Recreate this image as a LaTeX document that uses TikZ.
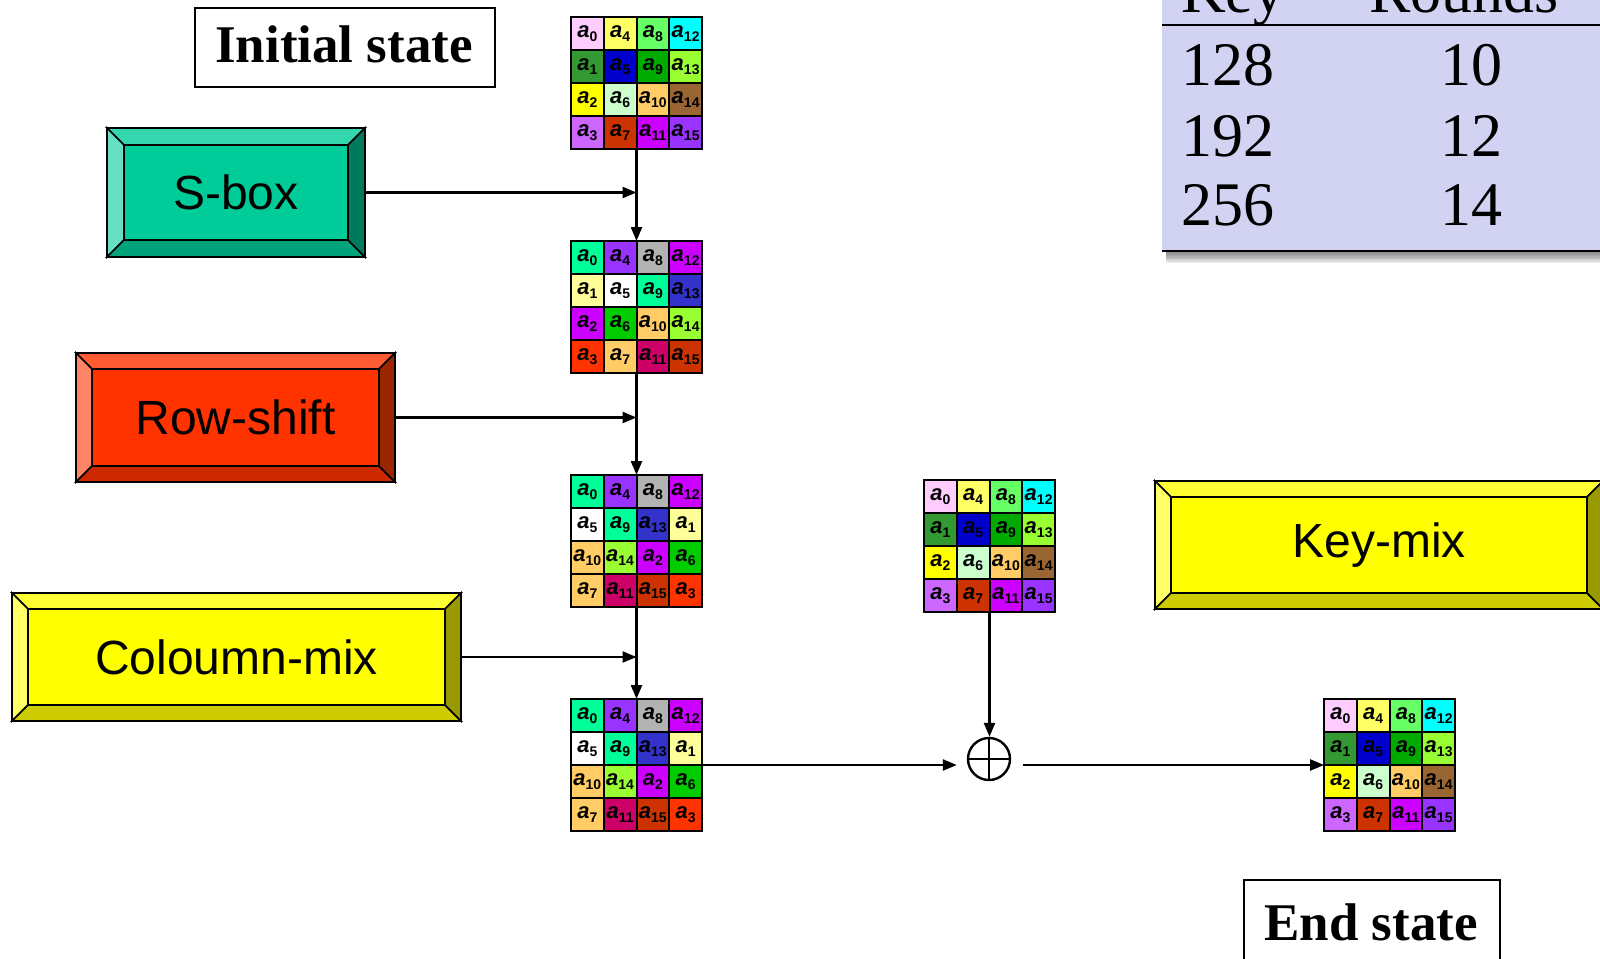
\documentclass[tikz,border=0pt]{standalone}
\usepackage{fontspec}
\setmainfont{Liberation Serif}
\newfontfamily\arialfont{Liberation Sans}
\usetikzlibrary{arrows.meta,calc}
% grid colours, set A (initial / key / end)
\definecolor{A0}{HTML}{FFCCFF}\definecolor{A1}{HTML}{339933}\definecolor{A2}{HTML}{FFFF00}\definecolor{A3}{HTML}{CC66FF}
\definecolor{A4}{HTML}{FFFF66}\definecolor{A5}{HTML}{0000CC}\definecolor{A6}{HTML}{CCFFCC}\definecolor{A7}{HTML}{CC3300}
\definecolor{A8}{HTML}{66FF66}\definecolor{A9}{HTML}{00AA00}\definecolor{A10}{HTML}{FFCC66}\definecolor{A11}{HTML}{CC00FF}
\definecolor{A12}{HTML}{00FFFF}\definecolor{A13}{HTML}{99FF33}\definecolor{A14}{HTML}{996633}\definecolor{A15}{HTML}{9933FF}
% set B (after S-box)
\definecolor{B0}{HTML}{00FF99}\definecolor{B1}{HTML}{FFFF99}\definecolor{B2}{HTML}{CC00FF}\definecolor{B3}{HTML}{FF3300}
\definecolor{B4}{HTML}{9933FF}\definecolor{B5}{HTML}{FFFFFF}\definecolor{B6}{HTML}{00CC00}\definecolor{B7}{HTML}{FFCC66}
\definecolor{B8}{HTML}{B2B2B2}\definecolor{B9}{HTML}{00FF99}\definecolor{B10}{HTML}{FFCC66}\definecolor{B11}{HTML}{CC0066}
\definecolor{B12}{HTML}{CC00FF}\definecolor{B13}{HTML}{3333CC}\definecolor{B14}{HTML}{99FF33}\definecolor{B15}{HTML}{CC3300}
% bevel box colours
\definecolor{sbF}{HTML}{00CC99}\definecolor{sbT}{HTML}{33D6AD}\definecolor{sbL}{HTML}{66E0C2}\definecolor{sbB}{HTML}{00A37A}\definecolor{sbR}{HTML}{007A5C}
\definecolor{rsF}{HTML}{FF3300}\definecolor{rsT}{HTML}{FF5C33}\definecolor{rsL}{HTML}{FF8566}\definecolor{rsB}{HTML}{CC2900}\definecolor{rsR}{HTML}{992600}
\definecolor{ylF}{HTML}{FFFF00}\definecolor{ylT}{HTML}{FFFF33}\definecolor{ylL}{HTML}{FFFF66}\definecolor{ylB}{HTML}{CCCC00}\definecolor{ylR}{HTML}{999900}
\definecolor{tabfill}{HTML}{D2D2F2}

\newcommand{\cellab}[1]{{\arialfont\bfseries\itshape\fontsize{22}{22}\selectfont a}{\arialfont\bfseries\fontsize{14}{14}\selectfont\raisebox{-4.5pt}{#1}}}

\newcommand{\stategrid}[5]{% name, x0, y0, shifted layout (0/1), colour set
  \node[minimum width=131pt, minimum height=132pt, inner sep=0pt, outer sep=0pt] (#1) at (#2+65.5,#3+66) {};
  \foreach \r in {0,...,3}{\foreach \c in {0,...,3}{
    \pgfmathtruncatemacro\sh{#4*{0,1,2,1}[\r]}
    \pgfmathtruncatemacro\lbl{4*mod(\c+\sh,4)+\r}
    \node[cellbox, fill=#5\lbl] (#1c\r\c) at (#2+16.375+\c*32.75, #3+16.5+\r*33) {\cellab{\lbl}};
  }}
}

\newcommand{\bevelbox}[8]{% name, x1, y1, x2, y2, bevel, colour prefix, text
  \draw[bevel, fill=#7T] (#2,#3) -- (#4,#3) -- (#4-#6,#3+#6) -- (#2+#6,#3+#6) -- cycle;
  \draw[bevel, fill=#7L] (#2,#3) -- (#2+#6,#3+#6) -- (#2+#6,#5-#6) -- (#2,#5) -- cycle;
  \draw[bevel, fill=#7B] (#2,#5) -- (#2+#6,#5-#6) -- (#4-#6,#5-#6) -- (#4,#5) -- cycle;
  \draw[bevel, fill=#7R] (#4,#3) -- (#4,#5) -- (#4-#6,#5-#6) -- (#4-#6,#3+#6) -- cycle;
  \draw[bevel, fill=#7F] (#2+#6,#3+#6) rectangle (#4-#6,#5-#6);
  \node[boxlabel, minimum width={(#4-#2)*1pt}, minimum height={(#5-#3)*1pt}] (#1) at ({(#2+#4)/2},{(#3+#5)/2}) {#8};
}

\begin{document}
\begin{tikzpicture}[x=1pt,y=-1pt,
  cellbox/.style={draw, line width=2pt, minimum width=32.75pt, minimum height=33pt, inner sep=0pt, text=black},
  bevel/.style={draw=black, line width=1.6pt, line join=miter},
  boxlabel/.style={inner sep=0pt, outer sep=0pt, font=\arialfont\fontsize{48}{48}\selectfont},
  arr/.style={line width=2.4pt, -{Triangle[length=14pt,width=11pt]}},
  statelabel/.style={draw, line width=1.8pt, fill=white, inner sep=0pt},
  tabtext/.style={font=\fontsize{62}{62}\selectfont, inner sep=0pt}
]
\useasboundingbox (0,0) rectangle (1600,958);
\clip (0,0) rectangle (1600,958);

% key / rounds table
\foreach \i in {1,...,8}{\fill[black, opacity=0.07] (1166,252) rectangle (1600,252+\i*1.4);}
\fill[tabfill] (1162,-5) rectangle (1600,251);
\draw[line width=1.8pt] (1162,25) -- (1600,25);
\draw[line width=2.4pt] (1162,251) -- (1600,251);
\node[tabtext, anchor=base west] (hkey) at (1181,13) {Key};
\node[tabtext, anchor=base] (hrounds) at (1464,13) {Rounds};
\node[tabtext, anchor=base west] (k1) at (1181,85) {128};
\node[tabtext, anchor=base west] (k2) at (1181,156) {192};
\node[tabtext, anchor=base west] (k3) at (1181,225) {256};
\node[tabtext, anchor=base] (r1) at (1471,85) {10};
\node[tabtext, anchor=base] (r2) at (1471,156) {12};
\node[tabtext, anchor=base] (r3) at (1471,225) {14};

% state labels
\node[statelabel, minimum width=300pt, minimum height=79pt] (initbox) at (345,47.5) {};
\node[font=\bfseries\fontsize{53}{53}\selectfont, anchor=base, inner sep=0pt] (inittext) at (344,63) {Initial state};
\node[statelabel, minimum width=256pt, minimum height=100pt] (endbox) at (1372,930) {};
\node[font=\bfseries\fontsize{53}{53}\selectfont, anchor=base, inner sep=0pt] (endtext) at (1371,940) {End state};

% operation boxes
\bevelbox{sbox}{107}{128}{365}{257}{17}{sb}{S-box}
\bevelbox{rowshift}{76}{353}{395}{482}{16}{rs}{Row-shift}
\bevelbox{colmix}{12}{593}{461}{721}{16}{yl}{Coloumn-mix}
\bevelbox{keymix}{1155}{481}{1603}{609}{16}{yl}{Key-mix}

% state grids
\stategrid{g1}{571}{17}{0}{A}
\stategrid{g2}{571}{241}{0}{B}
\stategrid{g3}{571}{475}{1}{B}
\stategrid{g4}{571}{699}{1}{B}
\stategrid{g5}{924}{480}{0}{A}
\stategrid{g6}{1324}{699}{0}{A}

% XOR
\node[circle, draw, line width=2.4pt, minimum size=42pt, inner sep=0pt,
  path picture={\draw[line width=2.4pt] (path picture bounding box.north) -- (path picture bounding box.south)
  (path picture bounding box.west) -- (path picture bounding box.east);}] (xor) at (989,759) {};

% connectors
\draw[arr] (g1.south) -- (g2.north);
\draw[arr] (g2.south) -- (g3.north);
\draw[arr] (g3.south) -- (g4.north);
\draw[arr] (sbox.east) -- (sbox.east -| g1.south);
\draw[arr] (rowshift.east) -- (rowshift.east -| g2.south);
\draw[arr] (colmix.east) -- (colmix.east -| g3.south);
\draw[arr, shorten >=10pt] (g4.east) -- (g4.east -| xor.west);
\draw[arr] (g5.south) -- (g5.south |- xor.north);
\draw[arr, shorten <=12pt] (xor.east |- g6.west) -- (g6.west);
\end{tikzpicture}
\end{document}
